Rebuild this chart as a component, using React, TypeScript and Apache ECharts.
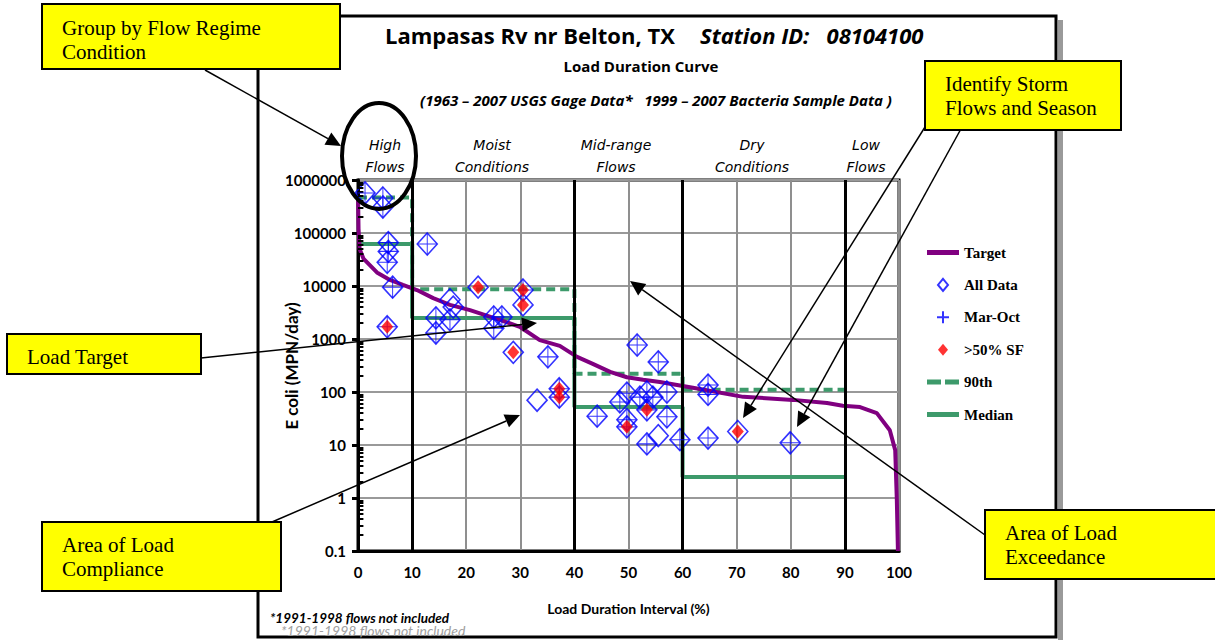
import React, { useEffect, useRef } from 'react';
import * as echarts from 'echarts';

// ---------- data ----------
const xTickValues = [0, 10, 20, 30, 40, 50, 60, 70, 80, 90, 100];
const yTickValues = [0.1, 1, 10, 100, 1000, 10000, 100000, 1000000];
const minorTickSteps = [2, 3, 4, 5, 6, 7, 8, 9];
const regimeBounds = [0, 10, 40, 60, 90, 100];
const regimeDividers = [10, 40, 60, 90];
const regimeNames = ['High\nFlows', 'Moist\nConditions', 'Mid-range\nFlows', 'Dry\nConditions', 'Low\nFlows'];
const medianValues = [62000, 2500, 52, 2.5];
const p90Values = [470000, 8700, 220, 110];

const targetX = [0.02, 0.1, 0.3, 1, 3.5, 5.9, 8.3, 10.9, 13.9, 17, 20.7, 26.2, 29.9, 33.6, 37.3, 40.5, 43.4, 46.6, 49.7, 52.7, 55.8, 61.9, 71.2, 80.4, 86.7, 89.6, 92.8, 95.9, 98.3, 99.3, 99.6, 99.8];
const targetY = [420000, 120000, 50000, 33000, 18000, 13000, 10500, 8400, 5900, 4400, 3500, 2300, 1700, 950, 740, 460, 340, 240, 190, 170, 155, 120, 81, 71, 62, 55, 52, 40, 19, 8, 0.9, 0.1];

const sampleX = [1.3, 4.6, 4.6, 5.6, 5.6, 5.4, 6.4, 5.4, 12.8, 14.4, 14.4, 17, 17.6, 17, 22.2, 25.1, 25.1, 26.6, 30.5, 30.5, 28.7, 35.1, 33.1, 37.2, 37.2, 51.6, 55.5, 49.7, 53.4, 57.1, 48.4, 44.2, 49.7, 49.7, 53.4, 57.1, 53.4, 55.5, 59.5, 52.1, 54.5, 64.7, 64.7, 64.7, 70.2, 79.9];
const sampleY = [570000, 457000, 310000, 66000, 45000, 28000, 9500, 1700, 62000, 2500, 1300, 5500, 4000, 2300, 9500, 2600, 1600, 2600, 8400, 4400, 560, 460, 70, 115, 80, 770, 370, 95, 100, 100, 65, 35, 30, 22, 46, 34, 10.5, 15, 12.6, 80, 80, 135, 90, 13.5, 18, 11];
const sampleMarOct = [1, 1, 1, 1, 1, 1, 1, 1, 1, 1, 1, 0, 0, 1, 0, 1, 1, 1, 1, 0, 0, 1, 0, 1, 1, 1, 1, 1, 1, 1, 1, 1, 1, 1, 1, 1, 1, 0, 1, 1, 1, 1, 1, 1, 0, 1];
const sampleSF = [0, 0, 0, 0, 0, 0, 0, 1, 0, 0, 0, 0, 0, 0, 1, 0, 0, 0, 1, 1, 1, 0, 0, 1, 1, 0, 0, 0, 0, 0, 0, 0, 0, 1, 1, 0, 0, 0, 0, 0, 0, 0, 0, 0, 1, 0];

// ---------- helpers ----------
function stepLine(values: number[]) {
  const pts: number[][] = [];
  values.forEach((v, i) => {
    pts.push([regimeBounds[i], v]);
    pts.push([regimeBounds[i + 1], v]);
  });
  return pts;
}

function arrow(x1: number, y1: number, x2: number, y2: number) {
  const len = 15;
  const hw = 7;
  const dx = x2 - x1;
  const dy = y2 - y1;
  const d = Math.sqrt(dx * dx + dy * dy);
  const ux = dx / d;
  const uy = dy / d;
  const bx = x2 - ux * len;
  const by = y2 - uy * len;
  return [
    { type: 'line', z: 100, shape: { x1, y1, x2: bx, y2: by }, style: { stroke: '#000', lineWidth: 1.5 } },
    {
      type: 'polygon',
      z: 100,
      shape: { points: [[x2, y2], [bx - uy * hw, by + ux * hw], [bx + uy * hw, by - ux * hw]] },
      style: { fill: '#000' },
    },
  ];
}

function callout(x: number, y: number, w: number, h: number, lines: string[], tx: number, ty: number) {
  return [
    { type: 'rect', z: 110, shape: { x, y, width: w, height: h }, style: { fill: '#ffff00', stroke: '#000', lineWidth: 2 } },
    {
      type: 'text',
      z: 111,
      x: tx,
      y: ty,
      style: { text: lines.join('\n'), fill: '#000', font: '21px "Liberation Serif"', lineHeight: 24, align: 'left', verticalAlign: 'top' },
    },
  ];
}

const GREEN = '#3d9a6b';
const PURPLE = '#800080';
const BLUE = '#0000ff';
const DIAMOND_ICON = 'path://M5,0L10,6L5,12L0,6Z';
const CROSS_ICON = 'path://M0,5L10,5M5,0L5,10';
const SOLID_ICON = 'path://M0,0L32,0L32,5L0,5Z';
const DASH_ICON = 'path://M0,0L14,0L14,5L0,5ZM18,0L32,0L32,5L18,5Z';

export default function App() {
  const ref = useRef<HTMLDivElement>(null);

  useEffect(() => {
    if (!ref.current) return;
    const chart = echarts.init(ref.current, null, { renderer: 'svg' });

    const pts = sampleX.map((x, i) => [x, sampleY[i]]);
    const allData = pts;
    const marOctData = pts.filter((_, i) => sampleMarOct[i] === 1);
    const sfData = pts.filter((_, i) => sampleSF[i] === 1);
    const targetData = targetX.map((x, i) => [x, targetY[i]]);
    const minorTickLines: any[] = [];
    yTickValues.slice(0, -1).forEach((d) =>
      minorTickSteps.forEach((s) => minorTickLines.push([{ coord: [0, d * s] }, { coord: [1, d * s] }]))
    );

    const regimeCenters = [385, 492, 616, 752, 866];
    const regimeTexts = regimeNames.map((t, i) => ({
      type: 'text',
      x: regimeCenters[i],
      y: 134,
      style: { text: t, fill: '#000', font: 'italic 14px "DejaVu Sans"', lineHeight: 22, align: 'center', verticalAlign: 'top' },
    }));

    const option: any = {
      animation: false,
      backgroundColor: '#fff',
      grid: { left: 358, right: 316, top: 180, bottom: 90, show: true, borderColor: '#000', borderWidth: 3, containLabel: false },
      xAxis: {
        type: 'value',
        min: xTickValues[0],
        max: xTickValues[xTickValues.length - 1],
        interval: 10,
        name: 'Load Duration Interval (%)',
        nameLocation: 'middle',
        nameGap: 50,
        nameTextStyle: { fontFamily: 'Lato', fontWeight: 'bold', fontSize: 14, color: '#000' },
        axisLine: { lineStyle: { color: '#000', width: 3 } },
        axisTick: { show: false },
        axisLabel: { fontFamily: 'Lato', fontWeight: 'bold', fontSize: 15, color: '#000', margin: 13 },
        splitLine: { lineStyle: { color: '#8f8f8f', width: 2 } },
      },
      yAxis: {
        type: 'log',
        logBase: 10,
        min: yTickValues[0],
        max: yTickValues[yTickValues.length - 1],
        interval: 1,
        axisLine: { lineStyle: { color: '#000', width: 3 } },
        axisTick: { show: true, length: 6, lineStyle: { color: '#000', width: 3 } },
        axisLabel: {
          fontFamily: 'Lato',
          fontWeight: 'bold',
          fontSize: 15,
          color: '#000',
          margin: 12,
          formatter: (v: number) => {
            const m = yTickValues.find((t) => Math.abs(Math.log10(t) - Math.log10(v)) < 1e-6);
            return m !== undefined ? String(m) : '';
          },
        },
        splitLine: { lineStyle: { color: '#999', width: 2 } },
      },
      legend: {
        orient: 'vertical',
        left: 922,
        top: 240,
        itemWidth: 32,
        itemHeight: 12,
        itemGap: 17.4,
        textStyle: { fontFamily: 'Liberation Serif', fontWeight: 'bold', fontSize: 15, color: '#000' },
        data: [
          { name: 'Target', icon: SOLID_ICON },
          { name: 'All Data', icon: DIAMOND_ICON },
          { name: 'Mar-Oct', icon: CROSS_ICON },
          { name: '>50% SF', icon: DIAMOND_ICON },
          { name: '90th', icon: DASH_ICON },
          { name: 'Median', icon: SOLID_ICON },
        ],
      },
      series: [
        {
          name: 'dividers',
          type: 'line',
          data: [],
          z: 1,
          markLine: {
            silent: true,
            symbol: 'none',
            label: { show: false },
            lineStyle: { color: '#000', width: 3, type: 'solid' },
            data: regimeDividers.map((v) => ({ xAxis: v })),
          },
        },
        {
          name: 'minorTicks',
          type: 'line',
          data: [],
          z: 7,
          markLine: {
            silent: true,
            symbol: 'none',
            label: { show: false },
            lineStyle: { color: '#000', width: 2, type: 'solid' },
            data: minorTickLines,
          },
        },
        {
          name: 'Median',
          type: 'line',
          symbol: 'none',
          data: stepLine(medianValues),
          lineStyle: { color: GREEN, width: 4 },
          itemStyle: { color: GREEN },
          z: 2,
        },
        {
          name: '90th',
          type: 'line',
          symbol: 'none',
          data: stepLine(p90Values),
          lineStyle: { color: GREEN, width: 4, type: [9, 5] },
          itemStyle: { color: GREEN },
          z: 2,
        },
        {
          name: 'Target',
          type: 'line',
          symbol: 'none',
          data: targetData,
          lineStyle: { color: PURPLE, width: 4 },
          itemStyle: { color: PURPLE },
          z: 3,
        },
        {
          name: 'All Data',
          type: 'scatter',
          symbol: 'diamond',
          symbolSize: [20, 22],
          data: allData,
          itemStyle: { color: 'rgba(255,255,255,0)', borderColor: BLUE, borderWidth: 1.6 },
          z: 4,
        },
        {
          name: 'Mar-Oct',
          type: 'scatter',
          symbol: 'path://M0,10L20,10M10,0L10,20',
          symbolSize: [19, 21],
          data: marOctData,
          itemStyle: { color: 'rgba(255,255,255,0)', borderColor: BLUE, borderWidth: 1 },
          z: 5,
        },
        {
          name: '>50% SF',
          type: 'scatter',
          symbol: 'diamond',
          symbolSize: [12, 14],
          data: sfData,
          itemStyle: { color: '#ff0000' },
          z: 6,
        },
      ],
      graphic: [
        // outer frame with shadow
        { type: 'rect', z: -1, shape: { x: 1058, y: 20, width: 5, height: 620 }, style: { fill: '#9a9a9a' } },
        { type: 'rect', z: 0, shape: { x: 258, y: 16, width: 798, height: 621 }, style: { fill: 'none', stroke: '#000', lineWidth: 3 } },
        // titles
        { type: 'text', x: 385, y: 35, style: { text: 'Lampasas Rv nr Belton, TX', fill: '#000', font: 'bold 22px "Open Sans"', align: 'left', verticalAlign: 'middle' } },
        { type: 'text', x: 700, y: 35, style: { text: 'Station ID:   08104100', fill: '#000', font: 'italic bold 22px "Open Sans"', align: 'left', verticalAlign: 'middle' } },
        { type: 'text', x: 641, y: 66, style: { text: 'Load Duration Curve', fill: '#000', font: 'bold 15px "Open Sans"', align: 'center', verticalAlign: 'middle' } },
        {
          type: 'text',
          x: 656,
          y: 100,
          style: { text: '(1963 – 2007 USGS Gage Data*   1999 – 2007 Bacteria Sample Data )', fill: '#000', font: 'italic bold 15px "Open Sans"', align: 'center', verticalAlign: 'middle' },
        },
        ...regimeTexts,
        // y axis title
        {
          type: 'text',
          x: 291,
          y: 366,
          rotation: Math.PI / 2,
          style: { text: 'E coli (MPN/day)', fill: '#000', font: 'bold 17px Lato', align: 'center', verticalAlign: 'middle' },
        },
        // footnote
        { type: 'text', x: 281, y: 630, style: { text: '*1991-1998 flows not included', fill: '#a0a0a0', font: 'italic 14px Lato', align: 'left', verticalAlign: 'middle' } },
        { type: 'text', x: 270, y: 618, style: { text: '*1991-1998 flows not included', fill: '#000', font: 'italic bold 13.5px Lato', align: 'left', verticalAlign: 'middle' } },
        // ellipse around High Flows
        { type: 'ellipse', z: 100, shape: { cx: 379, cy: 156, rx: 37, ry: 53 }, style: { fill: 'none', stroke: '#000', lineWidth: 4 } },
        // arrows
        ...arrow(205, 70, 341, 146),
        ...arrow(201, 358, 537, 323),
        ...arrow(272, 522, 520, 415),
        ...arrow(925, 127, 743, 418),
        ...arrow(962, 127, 797, 427),
        ...arrow(985, 535, 630, 281),
        // callouts
        ...callout(42, 4, 298, 65, ['Group by Flow Regime', 'Condition'], 62, 16),
        ...callout(925, 61, 196, 69, ['Identify Storm', 'Flows and Season'], 945, 72),
        ...callout(7, 334, 194, 40, ['Load Target'], 27, 345),
        ...callout(42, 522, 239, 69, ['Area of Load', 'Compliance'], 62, 533),
        ...callout(985, 510, 240, 69, ['Area of Load', 'Exceedance'], 1005, 521),
      ],
    };

    chart.setOption(option);
    return () => chart.dispose();
  }, []);

  return <div ref={ref} style={{ position: 'fixed', left: 0, top: 0, width: 1215, height: 641 }} />;
}
